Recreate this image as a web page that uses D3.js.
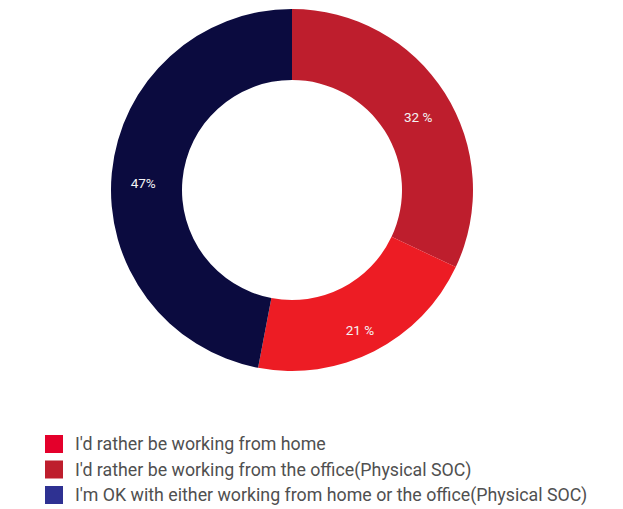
<!DOCTYPE html>
<html>
<head>
<meta charset="utf-8">
<script src="https://cdn.jsdelivr.net/npm/d3@7"></script>
<style>
  html, body { margin: 0; padding: 0; background: #fff; }
  svg { display: block; }
</style>
</head>
<body>
<svg id="chart" width="623" height="509"></svg>
<script>
// Survey answers, in legend order
const categories = [
  "I'd rather be working from home",
  "I'd rather be working from the office(Physical SOC)",
  "I'm OK with either working from home or the office(Physical SOC)"
];
const values = [21, 32, 47];
const valueLabels = ["21 %", "32 %", "47%"];
const legendColors = ["#E4002B", "#BE1E2D", "#2E3192"];
const sliceColors = ["#ED1C24", "#BE1E2D", "#0B0B3F"];
// clockwise drawing order from 12 o'clock
const sliceOrder = [1, 0, 2];

const svg = d3.select("#chart");
const cx = 292, cy = 190, outerR = 181, innerR = 110;

const pie = d3.pie()
  .sort(null)
  .value(i => values[i]);
const arc = d3.arc().innerRadius(innerR).outerRadius(outerR);
const labelArc = d3.arc().innerRadius(innerR + 4).outerRadius(outerR + 4);

const g = svg.append("g").attr("transform", `translate(${cx},${cy})`);
const arcs = pie(sliceOrder);

g.selectAll("path.slice")
  .data(arcs)
  .join("path")
  .attr("class", "slice")
  .attr("d", arc)
  .attr("fill", d => sliceColors[d.data]);

g.selectAll("text.val")
  .data(arcs)
  .join("text")
  .attr("class", "val")
  .attr("transform", d => {
    const [x, y] = labelArc.centroid(d);
    return `translate(${x},${y + 7})`;
  })
  .attr("text-anchor", "middle")
  .attr("dy", "0.35em")
  .attr("fill", "#f4f4f4")
  .style("font-family", "Roboto, 'Open Sans', sans-serif")
  .style("font-size", "13.5px")
  .text(d => valueLabels[d.data]);

// Legend
const legend = svg.append("g").attr("transform", "translate(45,435)");
const rowH = 25.5;
const rows = legend.selectAll("g.row")
  .data(categories)
  .join("g")
  .attr("class", "row")
  .attr("transform", (d, i) => `translate(0,${i * rowH})`);

rows.append("rect")
  .attr("width", 18)
  .attr("height", 18)
  .attr("fill", (d, i) => legendColors[i]);

rows.append("text")
  .attr("x", 30)
  .attr("y", 9)
  .attr("dy", "0.35em")
  .attr("fill", "#505050")
  .style("font-family", "Roboto, 'Open Sans', sans-serif")
  .style("font-size", "17.8px")
  .text(d => d);
</script>
</body>
</html>
